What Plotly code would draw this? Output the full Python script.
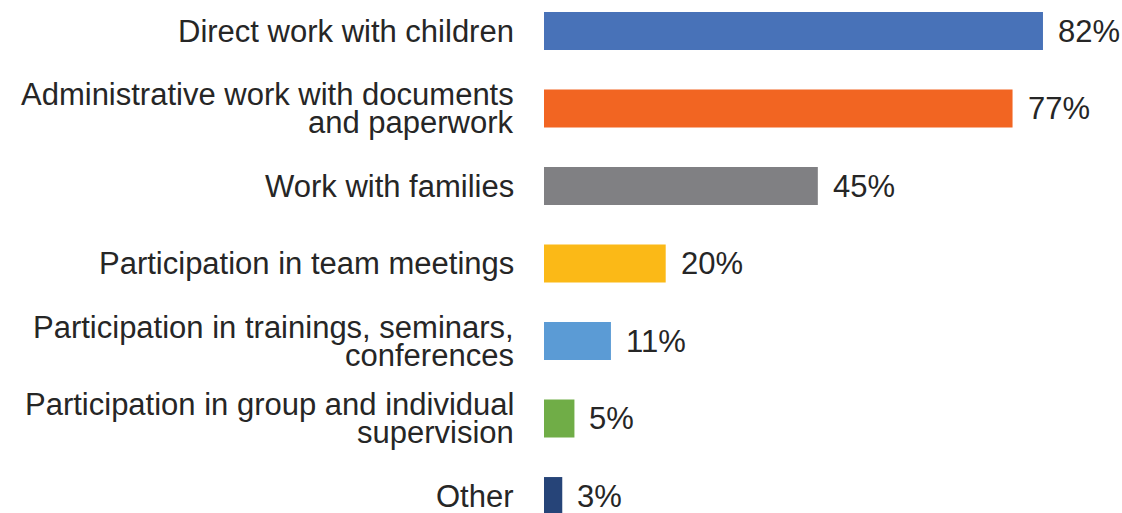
import plotly.graph_objects as go

categories = [
    "Direct work with children",
    "Administrative work with documents<br>and paperwork",
    "Work with families",
    "Participation in team meetings",
    "Participation in trainings, seminars,<br>conferences",
    "Participation in group and individual<br>supervision",
    "Other",
]
values = [82, 77, 45, 20, 11, 5, 3]
value_labels = ["82%", "77%", "45%", "20%", "11%", "5%", "3%"]
colors = ["#4872B8", "#F26522", "#808083", "#FBB917", "#5B9BD5", "#70AD47", "#264478"]

FONT = "Liberation Sans, Arial, sans-serif"
TXT = "#262626"
FS = 31
LINE = 28

fig = go.Figure(go.Bar(
    x=values, y=list(range(len(categories))), orientation="h",
    marker=dict(color=colors, line=dict(width=0)),
    width=0.49, hoverinfo="skip",
))

ann = []
for i, (cat, v, lab) in enumerate(zip(categories, values, value_labels)):
    lines = cat.split("<br>")
    n = len(lines)
    for j, ln in enumerate(lines):
        off = (j - (n - 1) / 2) * LINE
        ann.append(dict(x=0, xref="paper", y=i, yref="y", text=ln, showarrow=False,
                        xanchor="right", yanchor="middle", xshift=-28, yshift=-off,
                        font=dict(family=FONT, size=FS, color=TXT)))
    ann.append(dict(x=v, xref="x", y=i, yref="y", text=lab, showarrow=False,
                    xanchor="left", yanchor="middle", xshift=13,
                    font=dict(family=FONT, size=FS, color=TXT)))

fig.update_layout(
    width=1122, height=513,
    margin=dict(l=544, r=6, t=0, b=0),
    paper_bgcolor="white", plot_bgcolor="white",
    showlegend=False,
    annotations=ann,
    xaxis=dict(range=[0, 94], visible=False, fixedrange=True),
    yaxis=dict(range=[6.219, -0.4], visible=False, fixedrange=True),
)

fig.write_html(
    "out.html",
    config={"displayModeBar": False},
    post_script="document.body.style.margin='0';document.body.style.overflow='hidden';",
)
